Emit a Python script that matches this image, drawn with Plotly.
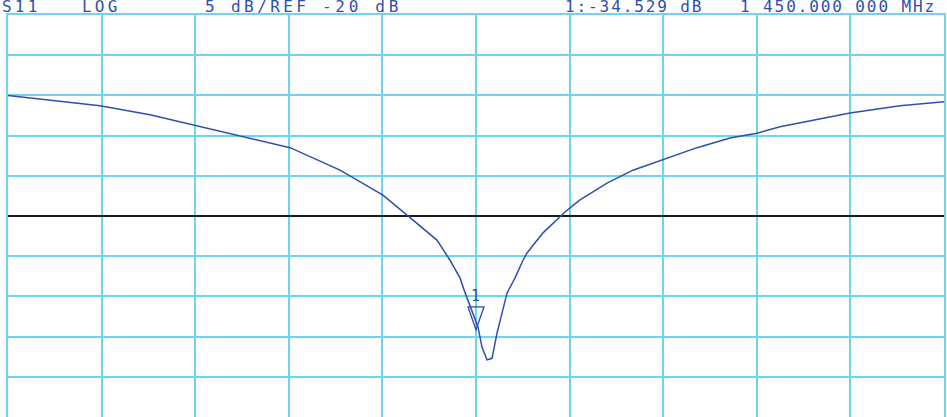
import plotly.graph_objects as go

# S11 sweep (frequency in MHz, magnitude in dB)
freq_mhz = [950, 973.5, 1005.6, 1048.3, 1101.7, 1133.8, 1203.2, 1251.3, 1304.7, 1350.6,
            1376.3, 1408.3, 1422.2, 1432.9, 1438.2, 1452.1, 1456.4, 1461.8, 1467.1, 1472.4,
            1483.1, 1491.7, 1500.2, 1504.5, 1521.6, 1545.1, 1561.1, 1590.0, 1617.7, 1649.8,
            1686.1, 1721.4, 1750.2, 1774.8, 1849.6, 1903.0, 1950]
s11_db = [-5.0, -5.3, -5.7, -6.3, -7.4, -8.3, -10.2, -11.5, -14.3, -17.4,
          -19.9, -23.0, -25.5, -27.7, -29.5, -33.8, -36.3, -37.9, -37.7, -34.6,
          -29.6, -27.7, -25.5, -24.6, -22.1, -19.5, -18.0, -15.9, -14.3, -13.0,
          -11.5, -10.3, -9.7, -8.9, -7.2, -6.3, -5.8]

ref_db = -20
scale_db = 5
marker_freq = 1450
marker_db = -34.529

header = ["S11", "LOG", "5 dB/REF", "-20 dB", "1:-34.529 dB", "1 450.000 000 MHz"]
header_x = [-0.0085, 0.077, 0.208, 0.333, 0.593, 0.78]
header_spacing = [3.2, 3.2, 3.4, 3.7, 1.9, 1.9]  # the plotter font is wider than any screen mono

grid_col = "#6fd3f2"
ink = "#2d4fae"

fig = go.Figure()
fig.add_trace(go.Scatter(x=[freq_mhz[0], freq_mhz[-1]], y=[ref_db, ref_db], mode="lines",
                         line=dict(color="#1a1a1a", width=2.2), hoverinfo="skip"))
fig.add_trace(go.Scatter(x=freq_mhz, y=s11_db, mode="lines", line=dict(color=ink, width=1.5)))

# marker 1: open triangle sitting just above the trace, label on top
fig.add_shape(type="path", xref="x", yref="y", xsizemode="pixel", ysizemode="pixel",
              xanchor=marker_freq, yanchor=marker_db,
              path="M -8,26 L 8,26 L 0,3 Z", line=dict(color=ink, width=1.3))
fig.add_annotation(x=marker_freq, y=marker_db, text="1", showarrow=False, yanchor="bottom",
                   xshift=-1, yshift=26, font=dict(family="DejaVu Sans Mono", size=15, color=ink))

for t, x, sp in zip(header, header_x, header_spacing):
    fig.add_annotation(xref="paper", yref="paper", x=x, y=1, showarrow=False,
                       text='<span style="letter-spacing:%spx">%s</span>' % (sp, t),
                       xanchor="left", yanchor="bottom", yshift=-3,
                       font=dict(family="DejaVu Sans Mono", size=16, color=ink))

fig.update_layout(
    width=947, height=417, showlegend=False,
    margin=dict(l=8, r=3, t=15, b=0, autoexpand=False),
    paper_bgcolor="white", plot_bgcolor="white",
    xaxis=dict(range=[freq_mhz[0], freq_mhz[-1]], dtick=100, tick0=950, showticklabels=False,
               showgrid=True, gridcolor=grid_col, gridwidth=1.6, zeroline=False,
               showline=True, linecolor=grid_col, linewidth=1.6, mirror=True),
    yaxis=dict(range=[ref_db - 5 * scale_db, ref_db + 5 * scale_db], dtick=scale_db, showticklabels=False,
               showgrid=True, gridcolor=grid_col, gridwidth=1.6, zeroline=False,
               showline=True, linecolor=grid_col, linewidth=1.6, mirror=True),
)

# drop the page's default body margin so the figure sits at the window corner
fig.write_html("out.html", config={"displayModeBar": False},
               post_script="document.body.style.margin='0';document.body.style.overflow='hidden';")
